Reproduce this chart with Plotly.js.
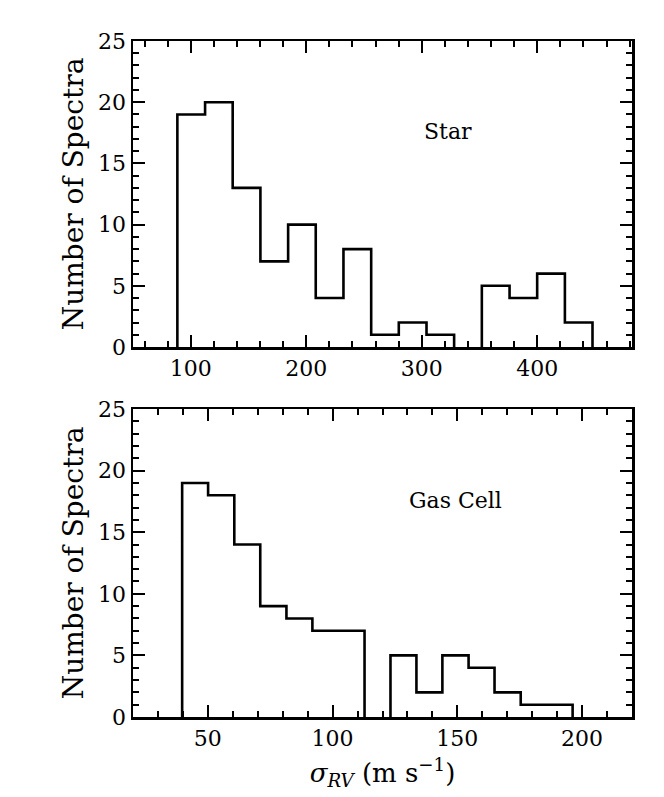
<!DOCTYPE html>
<html>
<head>
<meta charset="utf-8">
<script src="https://cdn.plot.ly/plotly-3.0.1.min.js"></script>
<style>html,body{margin:0;padding:0;background:#fff;}#chart{width:664px;height:797px;}</style>
</head>
<body>
<div id="chart"></div>
<script>
// Star panel: bin edges and counts
var starEdges = [88.4, 112.4, 136.3, 160.3, 184.3, 208.2, 232.2, 256.2, 280.1, 304.1, 328.0, 352.0, 376.0, 399.9, 423.9, 447.8];
var starCounts = [19, 20, 13, 7, 10, 4, 8, 1, 2, 1, 0, 5, 4, 6, 2];
// Gas cell panel: bin edges and counts
var gasEdges = [39.7, 50.1, 60.6, 71.0, 81.5, 91.9, 102.3, 112.8, 123.2, 133.6, 144.0, 154.5, 164.9, 175.4, 185.8, 196.2];
var gasCounts = [19, 18, 14, 9, 8, 7, 7, 0, 5, 2, 5, 4, 2, 1, 1];
var starTicks = [100, 200, 300, 400];
var gasTicks = [50, 100, 150, 200];
var yTicks = [0, 5, 10, 15, 20, 25];

// step outline (histtype="step"); empty bins leave the baseline to the axis spine
function stepXY(edges, counts) {
  var x = [edges[0]], y = [0];
  for (var i = 0; i < counts.length; i++) {
    if (counts[i] === 0) {
      x.push(edges[i]); y.push(0);
      x.push(null); y.push(null);
      x.push(edges[i + 1]); y.push(0);
    } else {
      x.push(edges[i]); y.push(counts[i]);
    }
  }
  x.push(edges[edges.length - 1]); y.push(0);
  return {x: x, y: y};
}
var s = stepXY(starEdges, starCounts);
var g = stepXY(gasEdges, gasCounts);

var FONT = "'DejaVu Serif', serif";
var traces = [
  {x: s.x, y: s.y, mode: 'lines', connectgaps: false, line: {shape: 'hv', color: '#000', width: 2.6}, xaxis: 'x', yaxis: 'y', hoverinfo: 'skip', cliponaxis: false},
  {x: g.x, y: g.y, mode: 'lines', connectgaps: false, line: {shape: 'hv', color: '#000', width: 2.6}, xaxis: 'x2', yaxis: 'y2', hoverinfo: 'skip', cliponaxis: false}
];

function axisBase() {
  return {
    showline: true, linecolor: '#000', linewidth: 2.5, mirror: 'allticks',
    ticks: 'inside', ticklen: 12, tickwidth: 2, tickcolor: '#000',
    showgrid: false, zeroline: false,
    tickfont: {family: FONT, size: 22, color: '#000'}
  };
}
var xa = axisBase();
Object.assign(xa, {range: [50, 482], tickmode: 'array', tickvals: starTicks, ticktext: starTicks.map(String), domain: [0, 1], anchor: 'y',
  minor: {ticks: 'inside', ticklen: 6, tickwidth: 2, tickcolor: '#000', dtick: 20, tick0: 0}});
var ya = axisBase();
Object.assign(ya, {range: [0, 25], tickmode: 'array', tickvals: yTicks, ticktext: yTicks.map(String), domain: [0.5473, 1], anchor: 'x',
  minor: {ticks: 'inside', ticklen: 6, tickwidth: 2, tickcolor: '#000', dtick: 1, tick0: 0},
  title: {text: 'Number of Spectra', font: {family: FONT, size: 28, color: '#000'}, standoff: 7}});
var xa2 = axisBase();
Object.assign(xa2, {range: [20, 220], tickmode: 'array', tickvals: gasTicks, ticktext: gasTicks.map(String), domain: [0, 1], anchor: 'y2',
  minor: {ticks: 'inside', ticklen: 6, tickwidth: 2, tickcolor: '#000', dtick: 10, tick0: 0},
  title: {text: '<i>σ</i><sub><i>RV</i></sub> (m s<sup>−1</sup>)', font: {family: FONT, size: 26, color: '#000'}, standoff: 14}});
var ya2 = axisBase();
Object.assign(ya2, {range: [0, 25], tickmode: 'array', tickvals: yTicks, ticktext: yTicks.map(String), domain: [0, 0.4556], anchor: 'x2',
  minor: {ticks: 'inside', ticklen: 6, tickwidth: 2, tickcolor: '#000', dtick: 1, tick0: 0},
  title: {text: 'Number of Spectra', font: {family: FONT, size: 28, color: '#000'}, standoff: 7}});

var layout = {
  width: 664, height: 797,
  margin: {l: 133, r: 32, t: 41, b: 80},
  paper_bgcolor: '#fff', plot_bgcolor: '#fff',
  showlegend: false,
  font: {family: FONT, color: '#000'},
  xaxis: xa, yaxis: ya, xaxis2: xa2, yaxis2: ya2,
  annotations: [
    {text: 'Star', x: 300, y: 17.6, xref: 'x', yref: 'y', xanchor: 'left', yanchor: 'middle', showarrow: false, font: {family: FONT, size: 22, color: '#000'}},
    {text: 'Gas Cell', x: 130, y: 17.6, xref: 'x2', yref: 'y2', xanchor: 'left', yanchor: 'middle', showarrow: false, font: {family: FONT, size: 22, color: '#000'}}
  ]
};
Plotly.newPlot('chart', traces, layout, {staticPlot: true});
</script>
</body>
</html>
